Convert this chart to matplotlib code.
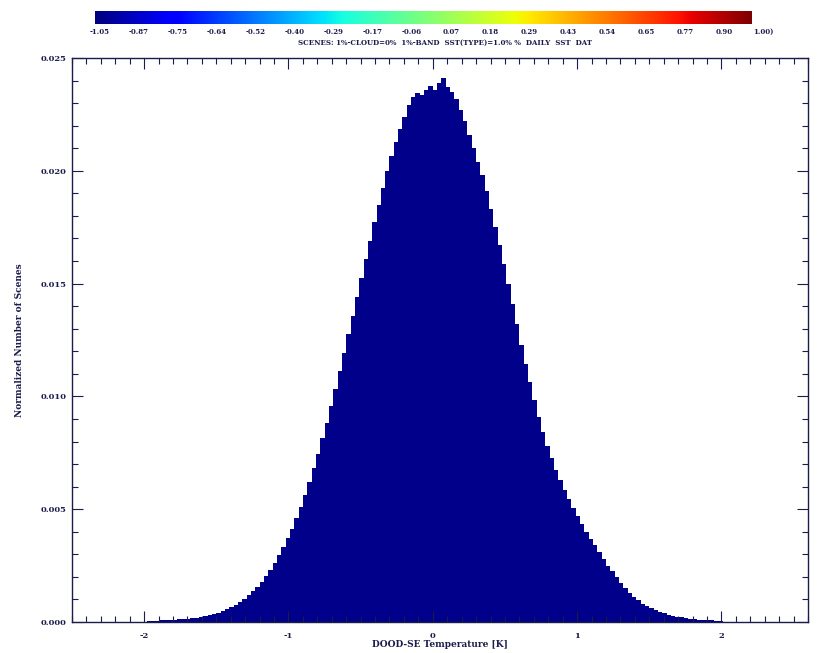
#!/usr/bin/env python3
"""Normalized histogram of DOOD-SE temperature differences (IDL-style look)."""

import matplotlib
matplotlib.use("Agg")
import matplotlib.pyplot as plt
import matplotlib.ticker as ticker
import numpy as np

# ---------------------------------------------------------------------------
# Data
# ---------------------------------------------------------------------------

BIN_START = -1.98
BIN_WIDTH = 0.03

# normalized number of scenes per bin, in units of 1e-4
hist_e4 = [
    # left tail, -1.98 .. 0.0
    0.4, 0.5, 0.6, 0.7, 0.8, 0.9, 1.0, 1.2, 1.3, 1.5,
    1.7, 1.9, 2.2, 2.5, 2.9, 3.4, 4.1, 4.8, 5.6, 6.6,
    7.7, 8.9, 10.3, 11.9, 13.7, 15.6, 17.9, 20.4, 23.1, 26.2,
    29.5, 33.1, 37.1, 41.4, 46.1, 51.0, 56.4, 62.1, 68.2, 74.6,
    81.4, 88.4, 95.7, 103.3, 111.2, 119.3, 127.5, 135.8, 144.2, 152.6,
    160.9, 169.1, 177.2, 185.0, 192.5, 199.7, 206.5, 212.8, 218.6, 224.0,
    229.0, 232.5, 234.5, 233.5, 236.0, 237.5,
    # right side, 0.0 .. 2.01
    236.0, 239.0, 241.0, 237.0, 235.0, 232.0, 227.0, 222.0, 216.0, 210.0,
    204.0, 198.0, 191.0, 183.0, 175.0, 167.0, 158.5, 150.0, 141.0, 132.0,
    123.0, 114.5, 106.5, 98.5, 91.0, 84.0, 78.0, 72.5, 67.5, 63.0,
    58.5, 54.5, 50.5, 47.0, 43.5, 40.0, 37.0, 34.0, 31.0, 28.0,
    25.0, 22.5, 20.0, 17.5, 15.2, 13.0, 11.2, 9.6, 8.2, 7.0,
    6.0, 5.2, 4.4, 3.8, 3.2, 2.7, 2.3, 2.0, 1.7, 1.5,
    1.3, 1.1, 1.0, 0.9, 0.8, 0.6, 0.4,
]

cbar_labels = [
    "-1.05", "-0.87", "-0.75", "-0.64", "-0.52", "-0.40", "-0.29", "-0.17", "-0.06",
    "0.07", "0.18", "0.29", "0.43", "0.54", "0.65", "0.77", "0.90", "1.00)",
]

subtitle = "SCENES: 1%-CLOUD=0%  1%-BAND  SST(TYPE)=1.0% %  DAILY  SST  DAT"
x_label = "DOOD-SE Temperature [K]"
y_label = "Normalized Number of Scenes"

# ---------------------------------------------------------------------------
# Style
# ---------------------------------------------------------------------------

BAR_COLOR = "#00008a"
INK = "#1c1c4c"
FONT = dict(family="DejaVu Serif", fontweight="bold", color=INK)

fig = plt.figure(figsize=(8.23, 6.53), dpi=100)

# colour bar strip at the top
cax = fig.add_axes([0.1154, 0.9632, 0.798, 0.02])
cax.imshow(np.linspace(0, 1, 256)[None, :], aspect="auto", cmap="jet",
           extent=[0, 1, 0, 1])
cax.set_xticks([])
cax.set_yticks([])
for s in cax.spines.values():
    s.set_visible(False)

# labels under the colour bar, evenly spread
for i, lab in enumerate(cbar_labels):
    xf = (100 + i * (763 - 100) / (len(cbar_labels) - 1)) / 823
    fig.text(xf, 1 - 32 / 653, lab, ha="center", va="center", fontsize=5, **FONT)
fig.text(445 / 823, 1 - 43 / 653, subtitle, ha="center", va="center",
         fontsize=5, **FONT)

# main histogram
ax = fig.add_axes([72 / 823, 31 / 653, (808 - 72) / 823, (622 - 58) / 653])
edges = BIN_START + BIN_WIDTH * np.arange(len(hist_e4) + 1)
ax.stairs(np.array(hist_e4) * 1e-4, edges, fill=True, color=BAR_COLOR, linewidth=0)

ax.set_xlim(-2.5, 2.6)
ax.set_ylim(0, 0.025)
ax.xaxis.set_major_locator(ticker.MultipleLocator(1))
ax.xaxis.set_minor_locator(ticker.MultipleLocator(0.1))
ax.yaxis.set_major_locator(ticker.MultipleLocator(0.005))
ax.yaxis.set_minor_locator(ticker.MultipleLocator(0.001))
ax.yaxis.set_major_formatter(ticker.FormatStrFormatter("%.3f"))
ax.xaxis.set_major_formatter(ticker.FuncFormatter(lambda v, p: f"{v:g}"))

ax.tick_params(which="both", direction="in", top=True, right=True, colors=INK,
               labelsize=6, width=0.8)
ax.tick_params(which="major", length=8, pad=4)
ax.tick_params(axis="x", which="major", pad=7)
ax.tick_params(which="minor", length=4)
for lab in ax.get_xticklabels() + ax.get_yticklabels():
    lab.set_family("DejaVu Serif")
    lab.set_fontweight("bold")
for s in ax.spines.values():
    s.set_color(INK)
    s.set_linewidth(1.0)

ax.set_xlabel(x_label, fontsize=6.5, labelpad=0, **FONT)
ax.set_ylabel(y_label, fontsize=6.5, labelpad=12, **FONT)

fig.savefig("out.png", dpi=100, facecolor="white")
plt.close(fig)
